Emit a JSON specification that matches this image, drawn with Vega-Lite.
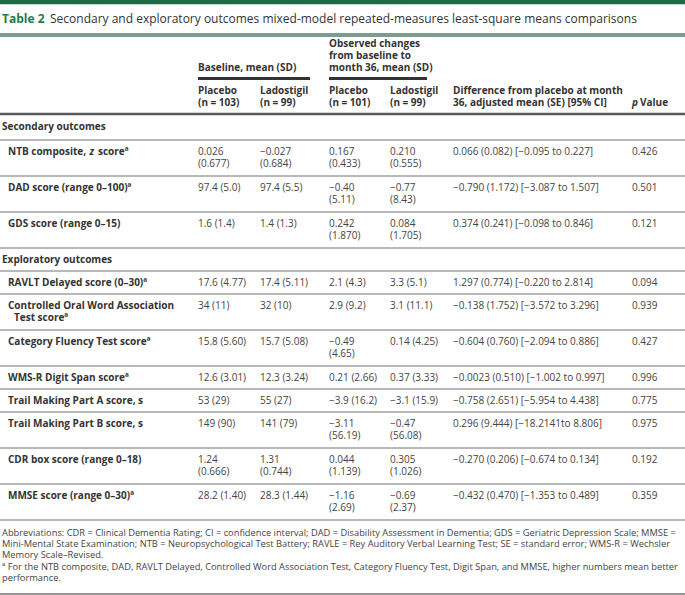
{
  "$schema": "https://vega.github.io/schema/vega-lite/v6.json",
  "width": 685,
  "height": 595,
  "autosize": {"type": "none"},
  "padding": 0,
  "background": "white",
  "config": {"view": {"stroke": null}, "text": {"font": "Open Sans"}},
  "datasets": {
    "rules": [
      {"row": 0, "col": 0, "col2": 15, "kind": "bar"},
      {"row": 2, "col": 0, "col2": 15, "kind": "trule"},
      {"row": 5, "col": 6, "col2": 8, "kind": "under"},
      {"row": 5, "col": 9, "col2": 11, "kind": "under"},
      {"row": 7, "col": 0, "col2": 15, "kind": "header"},
      {"row": 9, "col": 0, "col2": 15, "kind": "row"},
      {"row": 11, "col": 0, "col2": 15, "kind": "row"},
      {"row": 13, "col": 0, "col2": 15, "kind": "row"},
      {"row": 15, "col": 0, "col2": 15, "kind": "row"},
      {"row": 17, "col": 0, "col2": 15, "kind": "row"},
      {"row": 19, "col": 0, "col2": 15, "kind": "row"},
      {"row": 21, "col": 0, "col2": 15, "kind": "row"},
      {"row": 23, "col": 0, "col2": 15, "kind": "row"},
      {"row": 25, "col": 0, "col2": 15, "kind": "row"},
      {"row": 27, "col": 0, "col2": 15, "kind": "row"},
      {"row": 29, "col": 0, "col2": 15, "kind": "row"},
      {"row": 31, "col": 0, "col2": 15, "kind": "row"},
      {"row": 33, "col": 0, "col2": 15, "kind": "row"},
      {"row": 36, "col": 0, "col2": 15, "kind": "bottom"}
    ],
    "cells": [
      {"row": 1, "col": 1, "kind": "tlabel", "text": "Table 2"},
      {"row": 1, "col": 1, "kind": "title", "text": "Secondary and exploratory outcomes mixed-model repeated-measures least-square means comparisons"},
      {"row": 3, "col": 9, "kind": "head", "text": ["Observed changes", "from baseline to", "month 36, mean (SD)"]},
      {"row": 4, "col": 6, "kind": "head", "text": "Baseline, mean (SD)"},
      {"row": 6, "col": 6, "kind": "head", "text": ["Placebo", "(n = 103)"]},
      {"row": 6, "col": 7, "kind": "head", "text": ["Ladostigil", "(n = 99)"]},
      {"row": 6, "col": 9, "kind": "head", "text": ["Placebo", "(n = 101)"]},
      {"row": 6, "col": 10, "kind": "head", "text": ["Ladostigil", "(n = 99)"]},
      {"row": 6, "col": 12, "kind": "head", "text": ["Difference from placebo at month", "36, adjusted mean (SE) [95% CI]"]},
      {"row": 6, "col": 13, "kind": "ital", "text": ["", "p"]},
      {"row": 6, "col": 14, "kind": "head", "text": ["", "Value"]},
      {"row": 8, "col": 1, "kind": "head", "text": "Secondary outcomes"},
      {"row": 10, "col": 2, "kind": "head", "text": "NTB composite,"},
      {"row": 10, "col": 4, "kind": "ital", "text": "z"},
      {"row": 10, "col": 5, "kind": "head", "text": "scoreª"},
      {"row": 10, "col": 6, "kind": "cell", "text": ["0.026", "(0.677)"]},
      {"row": 10, "col": 7, "kind": "cell", "text": ["−0.027", "(0.684)"]},
      {"row": 10, "col": 9, "kind": "cell", "text": ["0.167", "(0.433)"]},
      {"row": 10, "col": 10, "kind": "cell", "text": ["0.210", "(0.555)"]},
      {"row": 10, "col": 12, "kind": "cell", "text": "0.066 (0.082) [−0.095 to 0.227]"},
      {"row": 10, "col": 13, "kind": "cell", "text": "0.426"},
      {"row": 12, "col": 2, "kind": "head", "text": "DAD score (range 0–100)ª"},
      {"row": 12, "col": 6, "kind": "cell", "text": "97.4 (5.0)"},
      {"row": 12, "col": 7, "kind": "cell", "text": "97.4 (5.5)"},
      {"row": 12, "col": 9, "kind": "cell", "text": ["−0.40", "(5.11)"]},
      {"row": 12, "col": 10, "kind": "cell", "text": ["−0.77", "(8.43)"]},
      {"row": 12, "col": 12, "kind": "cell", "text": "−0.790 (1.172) [−3.087 to 1.507]"},
      {"row": 12, "col": 13, "kind": "cell", "text": "0.501"},
      {"row": 14, "col": 2, "kind": "head", "text": "GDS score (range 0–15)"},
      {"row": 14, "col": 6, "kind": "cell", "text": "1.6 (1.4)"},
      {"row": 14, "col": 7, "kind": "cell", "text": "1.4 (1.3)"},
      {"row": 14, "col": 9, "kind": "cell", "text": ["0.242", "(1.870)"]},
      {"row": 14, "col": 10, "kind": "cell", "text": ["0.084", "(1.705)"]},
      {"row": 14, "col": 12, "kind": "cell", "text": "0.374 (0.241) [−0.098 to 0.846]"},
      {"row": 14, "col": 13, "kind": "cell", "text": "0.121"},
      {"row": 16, "col": 1, "kind": "head", "text": "Exploratory outcomes"},
      {"row": 18, "col": 2, "kind": "head", "text": "RAVLT Delayed score (0–30)ª"},
      {"row": 18, "col": 6, "kind": "cell", "text": "17.6 (4.77)"},
      {"row": 18, "col": 7, "kind": "cell", "text": "17.4 (5.11)"},
      {"row": 18, "col": 9, "kind": "cell", "text": "2.1 (4.3)"},
      {"row": 18, "col": 10, "kind": "cell", "text": "3.3 (5.1)"},
      {"row": 18, "col": 12, "kind": "cell", "text": "1.297 (0.774) [−0.220 to 2.814]"},
      {"row": 18, "col": 13, "kind": "cell", "text": "0.094"},
      {"row": 20, "col": 2, "kind": "head", "text": "Controlled Oral Word Association"},
      {"row": 20, "col": 3, "kind": "head", "text": ["", "Test scoreª"]},
      {"row": 20, "col": 6, "kind": "cell", "text": "34 (11)"},
      {"row": 20, "col": 7, "kind": "cell", "text": "32 (10)"},
      {"row": 20, "col": 9, "kind": "cell", "text": "2.9 (9.2)"},
      {"row": 20, "col": 10, "kind": "cell", "text": "3.1 (11.1)"},
      {"row": 20, "col": 12, "kind": "cell", "text": "−0.138 (1.752) [−3.572 to 3.296]"},
      {"row": 20, "col": 13, "kind": "cell", "text": "0.939"},
      {"row": 22, "col": 2, "kind": "head", "text": "Category Fluency Test scoreª"},
      {"row": 22, "col": 6, "kind": "cell", "text": "15.8 (5.60)"},
      {"row": 22, "col": 7, "kind": "cell", "text": "15.7 (5.08)"},
      {"row": 22, "col": 9, "kind": "cell", "text": ["−0.49", "(4.65)"]},
      {"row": 22, "col": 10, "kind": "cell", "text": "0.14 (4.25)"},
      {"row": 22, "col": 12, "kind": "cell", "text": "−0.604 (0.760) [−2.094 to 0.886]"},
      {"row": 22, "col": 13, "kind": "cell", "text": "0.427"},
      {"row": 24, "col": 2, "kind": "head", "text": "WMS-R Digit Span scoreª"},
      {"row": 24, "col": 6, "kind": "cell", "text": "12.6 (3.01)"},
      {"row": 24, "col": 7, "kind": "cell", "text": "12.3 (3.24)"},
      {"row": 24, "col": 9, "kind": "cell", "text": "0.21 (2.66)"},
      {"row": 24, "col": 10, "kind": "cell", "text": "0.37 (3.33)"},
      {"row": 24, "col": 12, "kind": "cell", "text": "−0.0023 (0.510) [−1.002 to 0.997]"},
      {"row": 24, "col": 13, "kind": "cell", "text": "0.996"},
      {"row": 26, "col": 2, "kind": "head", "text": "Trail Making Part A score, s"},
      {"row": 26, "col": 6, "kind": "cell", "text": "53 (29)"},
      {"row": 26, "col": 7, "kind": "cell", "text": "55 (27)"},
      {"row": 26, "col": 9, "kind": "cell", "text": "−3.9 (16.2)"},
      {"row": 26, "col": 10, "kind": "cell", "text": "−3.1 (15.9)"},
      {"row": 26, "col": 12, "kind": "cell", "text": "−0.758 (2.651) [−5.954 to 4.438]"},
      {"row": 26, "col": 13, "kind": "cell", "text": "0.775"},
      {"row": 28, "col": 2, "kind": "head", "text": "Trail Making Part B score, s"},
      {"row": 28, "col": 6, "kind": "cell", "text": "149 (90)"},
      {"row": 28, "col": 7, "kind": "cell", "text": "141 (79)"},
      {"row": 28, "col": 9, "kind": "cell", "text": ["−3.11", "(56.19)"]},
      {"row": 28, "col": 10, "kind": "cell", "text": ["−0.47", "(56.08)"]},
      {"row": 28, "col": 12, "kind": "cell", "text": "0.296 (9.444) [−18.2141to 8.806]"},
      {"row": 28, "col": 13, "kind": "cell", "text": "0.975"},
      {"row": 30, "col": 2, "kind": "head", "text": "CDR box score (range 0–18)"},
      {"row": 30, "col": 6, "kind": "cell", "text": ["1.24", "(0.666)"]},
      {"row": 30, "col": 7, "kind": "cell", "text": ["1.31", "(0.744)"]},
      {"row": 30, "col": 9, "kind": "cell", "text": ["0.044", "(1.139)"]},
      {"row": 30, "col": 10, "kind": "cell", "text": ["0.305", "(1.026)"]},
      {"row": 30, "col": 12, "kind": "cell", "text": "−0.270 (0.206) [−0.674 to 0.134]"},
      {"row": 30, "col": 13, "kind": "cell", "text": "0.192"},
      {"row": 32, "col": 2, "kind": "head", "text": "MMSE score (range 0–30)ª"},
      {"row": 32, "col": 6, "kind": "cell", "text": "28.2 (1.40)"},
      {"row": 32, "col": 7, "kind": "cell", "text": "28.3 (1.44)"},
      {"row": 32, "col": 9, "kind": "cell", "text": ["−1.16", "(2.69)"]},
      {"row": 32, "col": 10, "kind": "cell", "text": ["−0.69", "(2.37)"]},
      {"row": 32, "col": 12, "kind": "cell", "text": "−0.432 (0.470) [−1.353 to 0.489]"},
      {"row": 32, "col": 13, "kind": "cell", "text": "0.359"},
      {"row": 34, "col": 1, "kind": "note", "text": ["Abbreviations: CDR = Clinical Dementia Rating; CI = confidence interval; DAD = Disability Assessment in Dementia; GDS = Geriatric Depression Scale; MMSE =", "Mini-Mental State Examination; NTB = Neuropsychological Test Battery; RAVLE = Rey Auditory Verbal Learning Test; SE = standard error; WMS-R = Wechsler", "Memory Scale–Revised."]},
      {"row": 35, "col": 1, "kind": "note", "text": ["ª For the NTB composite, DAD, RAVLT Delayed, Controlled Word Association Test, Category Fluency Test, Digit Span, and MMSE, higher numbers mean better", "performance."]}
    ]
  },
  "encoding": {
    "x": {"field": "col", "type": "quantitative", "axis": null,
      "scale": {"domain": [0, 1, 2, 3, 4, 5, 6, 7, 8, 9, 10, 11, 12, 13, 14, 15], "range": [0, 2, 8, 14, 89.5, 98, 198, 260, 310, 329, 390, 427, 453, 632, 640, 685], "zero": false, "nice": false}},
    "y": {"field": "row", "type": "quantitative", "axis": null,
      "scale": {"domain": [0, 1, 2, 3, 4, 5, 6, 7, 8, 9, 10, 11, 12, 13, 14, 15, 16, 17, 18, 19, 20, 21, 22, 23, 24, 25, 26, 27, 28, 29, 30, 31, 32, 33, 34, 35, 36],
        "range": [2, 19, 35, 44, 68, 78.5, 90.5, 114, 127, 140, 152, 176, 188, 212, 224, 248, 259.5, 271, 282.5, 294, 306, 330, 342, 366, 377.5, 389, 400.5, 412, 424, 448, 460, 484, 496, 520, 533, 567, 594], "zero": false, "nice": false}}
  },
  "layer": [
    {
      "data": {"name": "rules"},
      "mark": {"type": "rule"},
      "encoding": {
        "x2": {"field": "col2"},
        "strokeWidth": {"field": "kind", "type": "nominal", "legend": null,
          "scale": {"domain": ["bar", "trule", "under", "header", "row", "bottom"], "range": [4.5, 1, 1, 1.5, 1, 1.5]}},
        "color": {"field": "kind", "type": "nominal", "legend": null,
          "scale": {"domain": ["bar", "trule", "under", "header", "row", "bottom"], "range": ["#1d6a47", "#7c9c8e", "#333333", "#5a5a5a", "#a0a0a0", "#2a2a2a"]}}
      }
    },
    {
      "data": {"name": "cells"},
      "transform": [{"filter": "datum.kind === 'head'"}],
      "mark": {"type": "text", "align": "left", "baseline": "middle", "fontSize": 10, "fontWeight": "bold", "lineHeight": 12, "color": "#333333"},
      "encoding": {"text": {"field": "text"}}
    },
    {
      "data": {"name": "cells"},
      "transform": [{"filter": "datum.kind === 'ital'"}],
      "mark": {"type": "text", "align": "left", "baseline": "middle", "fontSize": 10, "fontWeight": "bold", "fontStyle": "italic", "lineHeight": 12, "color": "#333333"},
      "encoding": {"text": {"field": "text"}}
    },
    {
      "data": {"name": "cells"},
      "transform": [{"filter": "datum.kind === 'cell'"}],
      "mark": {"type": "text", "align": "left", "baseline": "middle", "fontSize": 10, "lineHeight": 12, "color": "#444444"},
      "encoding": {"text": {"field": "text"}}
    },
    {
      "data": {"name": "cells"},
      "transform": [{"filter": "datum.kind === 'note'"}],
      "mark": {"type": "text", "align": "left", "baseline": "middle", "fontSize": 9.3, "lineHeight": 11.2, "color": "#444444"},
      "encoding": {"text": {"field": "text"}}
    },
    {
      "data": {"name": "cells"},
      "transform": [{"filter": "datum.kind === 'tlabel'"}],
      "mark": {"type": "text", "align": "left", "baseline": "middle", "fontSize": 12, "fontWeight": "bold", "color": "#1f7a4d"},
      "encoding": {"text": {"field": "text"}}
    },
    {
      "data": {"name": "cells"},
      "transform": [{"filter": "datum.kind === 'title'"}],
      "mark": {"type": "text", "align": "left", "baseline": "middle", "fontSize": 12, "dx": 48, "color": "#333333"},
      "encoding": {"text": {"field": "text"}}
    }
  ]
}
